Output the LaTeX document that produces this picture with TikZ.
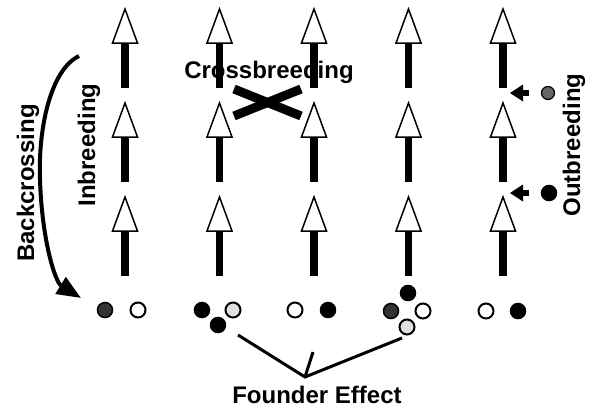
\documentclass[tikz,border=0pt]{standalone}
\usepackage{fontspec}
\setmainfont{Liberation Sans}
\usetikzlibrary{arrows.meta}
\begin{document}
\begin{tikzpicture}[x=1pt,y=-1pt,
  lbl/.style={font=\bfseries\fontsize{24}{26}\selectfont, inner sep=0pt},
  dot/.style={circle, minimum size=15pt, inner sep=0pt},
  blk/.style={fill=black, draw=black, line width=1.5pt},
  dkg/.style={fill=black!80, draw=black, line width=1.5pt},
  ltg/.style={fill=black!12, draw=black, line width=2pt},
  wht/.style={fill=white, draw=black, line width=2pt},
  uparr/.pic={
    \fill[black] (-3.7,34) rectangle (3.7,79);
    \draw[line width=1.5pt, fill=white, line join=miter] (0,0) -- (12.5,34) -- (-12.5,34) -- cycle;
  },
  lftarr/.pic={
    \fill[black] (0,0) -- (13,-8.5) -- (13,8.5) -- cycle;
    \fill[black] (12,-3) rectangle (19,3);
  },
]
\fill[white] (0,0) rectangle (594,407);
\useasboundingbox (0,0) rectangle (594,407);

% labels
\node[lbl, anchor=base] (cb) at (269,78) {Crossbreeding};
\node[lbl, rotate=90, anchor=base] (inb) at (95,145) {Inbreeding};
\node[lbl, rotate=90, anchor=base] (bc) at (34,183) {Backcrossing};
\node[lbl, rotate=90, anchor=base] (ob) at (580,145) {Outbreeding};
\node[lbl, anchor=base] (fe) at (317,403) {Founder Effect};

% arrows
\foreach \c/\x in {1/125,2/219.5,3/314,4/408.5,5/503}
  \foreach \r/\y in {1/9,2/103,3/197}
    \pic (a\c\r) at (\x,\y) {uparr};

% crossbreeding X
\coordinate (x1) at (234,89);
\coordinate (x2) at (301,116);
\coordinate (x3) at (234,116);
\coordinate (x4) at (301,89);
\draw[line width=9pt] (x1) -- (x2);
\draw[line width=9pt] (x3) -- (x4);

% backcrossing
\coordinate (bs) at (79,56);
\coordinate (bm) at (40,180);
\coordinate (be) at (81,298);
\draw[line width=4pt, -{Triangle[length=24pt,width=19pt]}] (bs) .. controls (50,70) and (38,130) .. (bm) .. controls (42,240) and (55,282) .. (be);

% outbreeding
\pic (o1) at (510,93) {lftarr};
\pic (o2) at (510,193) {lftarr};
\node[circle, minimum size=13pt, inner sep=0pt, fill=black!60, draw=black, line width=1.2pt] (og) at (548,93) {};
\node[dot, blk] (ok) at (549,193) {};

% founders
\node[dot,dkg] (c1a) at (105,310) {};
\node[dot,wht] (c1b) at (138,310) {};
\node[dot,blk] (c2a) at (202,310) {};
\node[dot,ltg] (c2b) at (233,310) {};
\node[dot,blk] (c2c) at (218,325) {};
\node[dot,wht] (c3a) at (295,310) {};
\node[dot,blk] (c3b) at (328,310) {};
\node[dot,blk] (c4a) at (408,293) {};
\node[dot,dkg] (c4b) at (391,311) {};
\node[dot,wht] (c4c) at (423,311) {};
\node[dot,ltg] (c4d) at (407,327) {};
\node[dot,wht] (c5a) at (486,311) {};
\node[dot,blk] (c5b) at (518,311) {};

% founder effect lines
\coordinate (fl) at (238,335);
\coordinate (fj) at (305,377);
\coordinate (fr) at (402,338);
\coordinate (ft) at (313,352);
\draw[line width=3pt] (fl) -- (fj) -- (fr);
\draw[line width=3pt] (fj) -- (ft);
\end{tikzpicture}
\end{document}
